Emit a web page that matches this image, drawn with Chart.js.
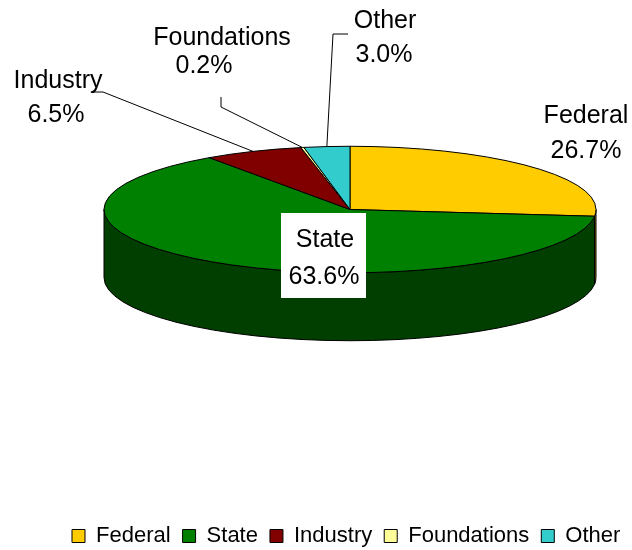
<!DOCTYPE html>
<html>
<head>
<meta charset="utf-8">
<script src="https://cdn.jsdelivr.net/npm/chart.js@4.4.1/dist/chart.umd.min.js"></script>
<style>
  html, body { margin: 0; padding: 0; background: #fff; }
  #wrap { width: 632px; height: 550px; }
</style>
</head>
<body>
<div id="wrap"><canvas id="pieChart"></canvas></div>
<script>
const categories = ['Federal', 'State', 'Industry', 'Foundations', 'Other'];
const shares = [26.7, 63.6, 6.5, 0.2, 3.0];
const topColors = ['#FFCC00', '#008000', '#800000', '#FFFF99', '#33CCCC'];
const sideColors = ['#9E7E00', '#003F00', '#4A0000', '#A3A35E', '#1E7C7C'];

// 3d look
const TILT = 0.257;   // ellipse ry / rx
const DEPTH = 68;     // height of the side wall
const SHIFT_X = 4;    // nudge of the tilted disc from the chart area centre
const SHIFT_Y = -47;

// label text: centre x and baseline of each line, plus leader elbows
const labelSpots = [
  { x: 586, y: 123, x2: 586, y2: 158 },
  { x: 325, y: 247, x2: 324, y2: 284, boxed: true },
  { x: 58, y: 88, x2: 56, y2: 122, leader: [[92, 92], [103, 92]] },
  { x: 222, y: 45, x2: 204, y2: 73, leader: [[221, 97], [221, 107]] },
  { x: 385, y: 28, x2: 384, y2: 62, leader: [[348, 34], [333, 34]] }
];
const FONT = '"Liberation Sans", Arial, sans-serif';

function discOf(chart) {
  const arcs = chart.getDatasetMeta(0).data;
  const r = arcs[0].outerRadius;
  return { arcs, cx: arcs[0].x + SHIFT_X, cy: arcs[0].y + SHIFT_Y, r, ry: r * TILT };
}

const pie3d = {
  id: 'pie3d',
  beforeDatasetsDraw(chart) {
    const ctx = chart.ctx;
    const { arcs, cx, cy, r, ry } = discOf(chart);

    ctx.save();
    ctx.lineWidth = 1;
    ctx.strokeStyle = '#000';
    ctx.lineJoin = 'round';

    // front wall, only the part facing us (0..PI)
    arcs.forEach((arc, i) => {
      const a1 = Math.max(arc.startAngle, 0);
      const a2 = Math.min(arc.endAngle, Math.PI);
      if (a2 <= a1) return;
      ctx.beginPath();
      ctx.ellipse(cx, cy, r, ry, 0, a1, a2);
      ctx.ellipse(cx, cy + DEPTH, r, ry, 0, a2, a1, true);
      ctx.closePath();
      ctx.fillStyle = sideColors[i];
      ctx.fill();
      ctx.stroke();
    });

    // top face
    arcs.forEach((arc, i) => {
      ctx.beginPath();
      ctx.moveTo(cx, cy);
      ctx.ellipse(cx, cy, r, ry, 0, arc.startAngle, arc.endAngle);
      ctx.closePath();
      ctx.fillStyle = topColors[i];
      ctx.fill();
      ctx.stroke();
    });
    ctx.restore();
    return false;
  },
  afterDraw(chart) {
    const ctx = chart.ctx;
    const { arcs, cx, cy, r, ry } = discOf(chart);

    ctx.save();
    ctx.font = '25px ' + FONT;
    ctx.textAlign = 'center';
    ctx.textBaseline = 'alphabetic';

    arcs.forEach((arc, i) => {
      const spot = labelSpots[i];
      const mid = (arc.startAngle + arc.endAngle) / 2;
      const ax = cx + r * Math.cos(mid);
      const ay = cy + ry * Math.sin(mid);

      if (spot.leader) {
        ctx.beginPath();
        ctx.moveTo(spot.leader[0][0], spot.leader[0][1]);
        ctx.lineTo(spot.leader[1][0], spot.leader[1][1]);
        ctx.lineTo(ax, ay);
        ctx.strokeStyle = '#000';
        ctx.lineWidth = 1;
        ctx.stroke();
      }

      const name = categories[i];
      const pct = shares[i].toFixed(1) + '%';
      if (spot.boxed) {
        ctx.fillStyle = '#fff';
        ctx.fillRect(spot.x - 44, spot.y - 34, 85, spot.y2 - spot.y + 48);
      }
      ctx.fillStyle = '#000';
      ctx.fillText(name, spot.x, spot.y);
      ctx.fillText(pct, spot.x2, spot.y2);
    });
    ctx.restore();
  }
};

new Chart(document.getElementById('pieChart'), {
  type: 'pie',
  data: {
    labels: categories,
    datasets: [{
      data: shares,
      backgroundColor: topColors,
      borderColor: '#000',
      borderWidth: 1
    }]
  },
  options: {
    responsive: true,
    maintainAspectRatio: false,
    animation: false,
    events: [],
    radius: 246,
    layout: { padding: { left: 60, right: -8, top: 0, bottom: -7 } },
    plugins: {
      tooltip: { enabled: false },
      legend: {
        position: 'bottom',
        align: 'start',
        labels: {
          boxWidth: 13,
          boxHeight: 13,
          padding: 12,
          color: '#000',
          font: { family: FONT, size: 22 }
        }
      }
    }
  },
  plugins: [pie3d]
});
</script>
</body>
</html>
